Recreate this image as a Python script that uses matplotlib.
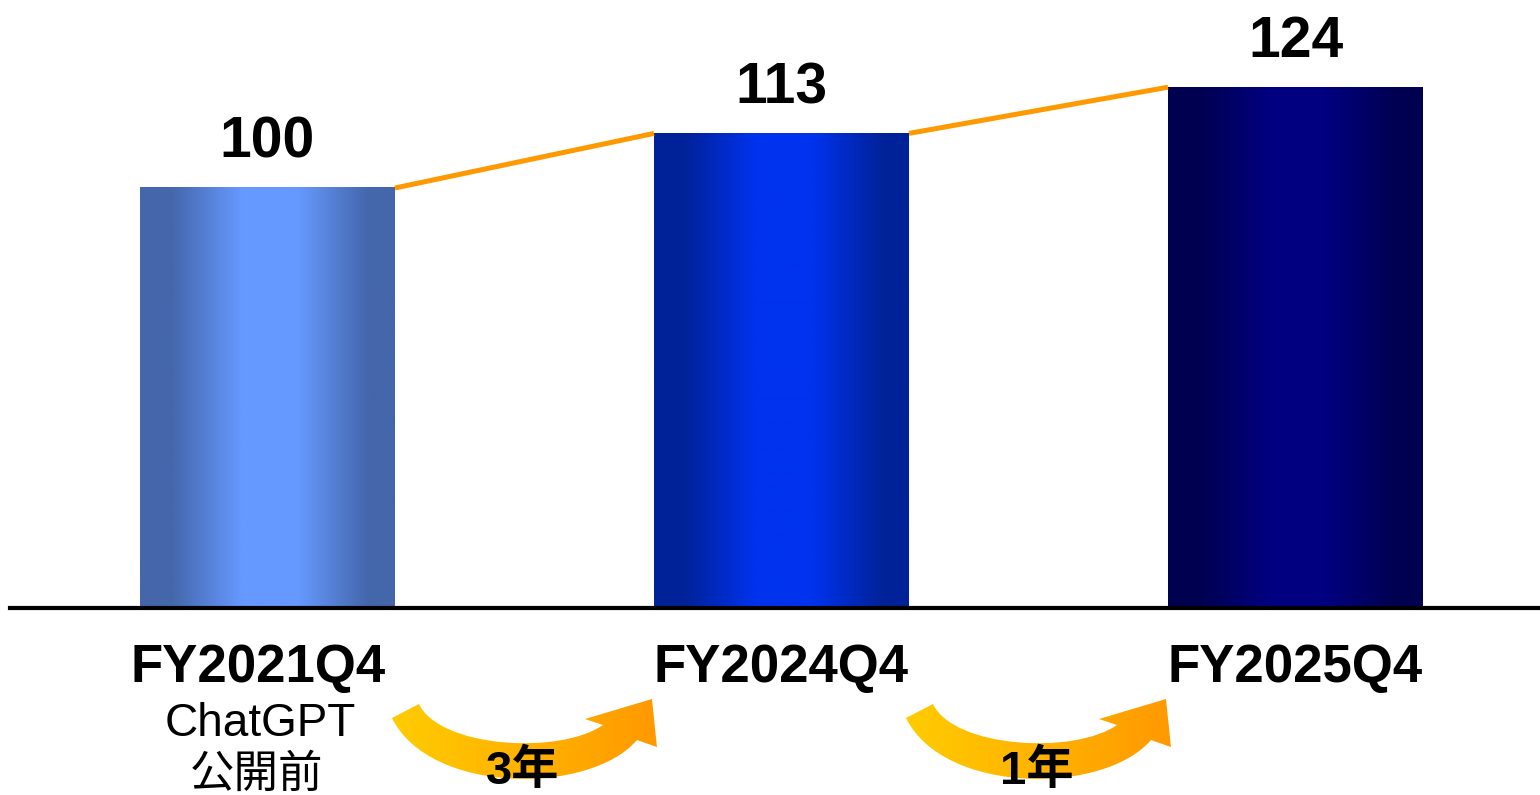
import numpy as np
import matplotlib.pyplot as plt
from matplotlib.colors import to_rgb
from matplotlib.path import Path
from matplotlib.patches import PathPatch

plt.rcParams['font.family'] = ['Liberation Sans', 'Noto Sans CJK JP']

# Data
periods = ["FY2021Q4", "FY2024Q4", "FY2025Q4"]
values = [100, 113, 124]
note_lines = ["ChatGPT", "公開前"]
gaps = ["3年", "1年"]

# Bar shading: edge colour -> centre colour
edge_colors = ["#4466aa", "#002299", "#000050"]
centre_colors = ["#6699ff", "#0033ee", "#000080"]

fig = plt.figure(figsize=(15.4, 7.95), dpi=100)
ax = fig.add_axes([0, 0, 1, 1])
ax.axis('off')

x = np.arange(len(values))
width = 0.496
xlim = (-0.5204, 2.4757)
ylim = (-44.52, 144.76)

# Bars with horizontal gradient
bars = ax.bar(x, values, width=width, color='none', edgecolor='none')
t = np.linspace(0, 1, 256)
shade = np.interp(t, [0, .12, .4, .62, .9, 1], [0, 0, 1, 1, 0, 0])
for bar, c0, c1 in zip(bars, edge_colors, centre_colors):
    c0 = np.array(to_rgb(c0))
    c1 = np.array(to_rgb(c1))
    img = c0 + (c1 - c0) * shade[:, None]
    ax.imshow(img[None], extent=[bar.get_x(), bar.get_x() + bar.get_width(),
                                 0, bar.get_height()],
              aspect='auto', interpolation='bilinear', zorder=2)

# Orange connectors between bar tops
for i in range(len(values) - 1):
    ax.plot([i + width / 2, i + 1 - width / 2], [values[i], values[i + 1]],
            color='#ff9900', lw=3.6, solid_capstyle='butt', zorder=3)

ax.set_xlim(*xlim)
ax.set_ylim(*ylim)

# Baseline
ax.axhline(0, xmin=10 / 1540, xmax=1, color='black', lw=3, zorder=4)

# Value labels
for i, v in enumerate(values):
    ax.annotate(str(v), (i, v), xytext=(0, 21.6), textcoords='offset points',
                ha='center', va='baseline', fontsize=41, fontweight='bold')

# Category labels
for i, p in enumerate(periods):
    dx = -7 if i == 0 else 0
    ax.annotate(p, (i, 0), xytext=(dx, -53.3), textcoords='offset points',
                ha='center', va='baseline', fontsize=38, fontweight='bold')
ax.annotate(note_lines[0], (0, 0), xytext=(-5, -92), textcoords='offset points',
            ha='center', va='baseline', fontsize=33)
ax.annotate(note_lines[1], (0, 0), xytext=(-8, -120), textcoords='offset points',
            ha='center', va='center', fontsize=32)

# Curved gradient arrows (shape in pixel offsets from bar right edge / baseline)
shape = [(24, 96), (45, 140), (165, 147), (208, 117),
         (190, 111), (257, 91), (262, 139), (242, 132),
         (195, 187), (35, 187), (-3, 110), (24, 96)]
codes = [Path.MOVETO, Path.CURVE4, Path.CURVE4, Path.CURVE4,
         Path.LINETO, Path.LINETO, Path.LINETO, Path.LINETO,
         Path.CURVE4, Path.CURVE4, Path.CURVE4, Path.CLOSEPOLY]
yellow = np.array(to_rgb("#ffcc00"))
orange = np.array(to_rgb("#ff9900"))
grad = yellow + (orange - yellow) * np.linspace(0, 1, 256)[:, None]
inv = ax.transData.inverted()
for i, label in enumerate(gaps):
    ax0, ay0 = ax.transData.transform((i + width / 2, 0))
    pts = np.array([(ax0 + dx, ay0 - dy) for dx, dy in shape])
    pts = inv.transform(pts)
    patch = PathPatch(Path(pts, codes), facecolor='none', edgecolor='none',
                      transform=ax.transData)
    ax.add_patch(patch)
    im = ax.imshow(grad[None], extent=[pts[:, 0].min(), pts[:, 0].max(),
                                       pts[:, 1].min(), pts[:, 1].max()],
                   aspect='auto', interpolation='bilinear', zorder=2)
    im.set_clip_path(patch)
    ax.annotate(label, (i + 0.5, 0), xytext=(-1, -118), textcoords='offset points',
                ha='center', va='center', fontsize=34, fontweight='bold', zorder=5)

ax.set_xlim(*xlim)
ax.set_ylim(*ylim)

fig.savefig("out.png", dpi=100)
